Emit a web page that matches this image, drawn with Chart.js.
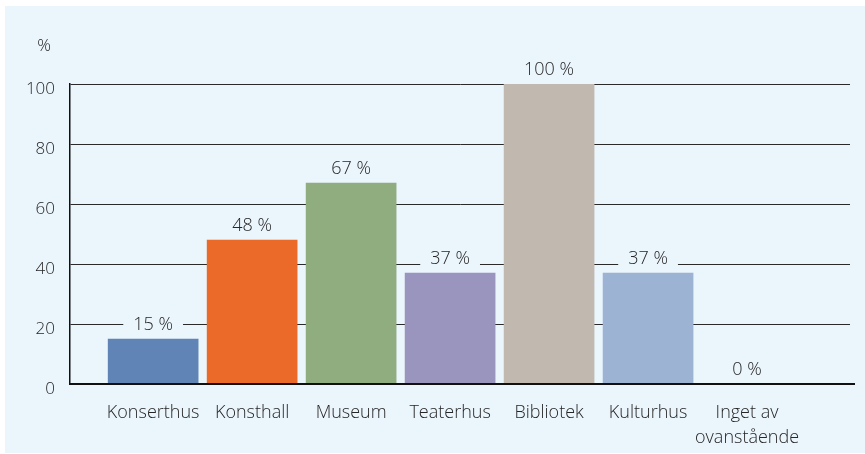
<!DOCTYPE html>
<html>
<head>
<meta charset="utf-8">
<script src="https://cdn.jsdelivr.net/npm/chart.js@4"></script>
<style>
  html, body { margin: 0; padding: 0; background: #ffffff; }
  #wrap { width: 865px; height: 454px; }
</style>
</head>
<body>
<div id="wrap"><canvas id="chart" width="865" height="454"></canvas></div>
<script>
// data
const categories = ['Konserthus', 'Konsthall', 'Museum', 'Teaterhus', 'Bibliotek', 'Kulturhus', ['Inget av', 'ovanstående']];
const values = [15, 48, 67, 37, 100, 37, 0];
const barColors = ['#6184b7', '#eb6a29', '#8fad7f', '#9a95be', '#c1b9b0', '#9db3d3', '#9db3d3'];
const yTicks = [0, 20, 40, 60, 80, 100];
const yUnit = '%';

const panelColor = '#eaf5fc';
const textColor = '#262626';
const fontFamily = '"Open Sans", sans-serif';

const ctx = document.getElementById('chart');

// panel background, axis line, unit label and value labels
const decor = {
  id: 'decor',
  beforeDraw(chart) {
    const c = chart.ctx;
    c.save();
    c.fillStyle = panelColor;
    c.fillRect(5, 6, chart.width - 5, 447);
    c.restore();
  },
  afterDatasetsDraw(chart) {
    const c = chart.ctx;
    const area = chart.chartArea;
    const y = chart.scales.y;
    c.save();
    // x axis line
    c.strokeStyle = '#111';
    c.lineWidth = 2;
    c.beginPath();
    c.moveTo(area.left, y.getPixelForValue(0));
    c.lineTo(area.right + 5, y.getPixelForValue(0));
    c.stroke();
    // unit
    c.font = '300 17px ' + fontFamily;
    c.fillStyle = textColor;
    c.textAlign = 'center';
    c.textBaseline = 'middle';
    c.fillText(yUnit, 44, 46);
    // value labels
    c.font = '300 18px ' + fontFamily;
    const meta = chart.getDatasetMeta(0);
    meta.data.forEach((bar, i) => {
      const txt = values[i] + ' %';
      const w = c.measureText(txt).width + 20;
      const cy = bar.y - 14;
      c.fillStyle = panelColor;
      c.fillRect(bar.x - w / 2, cy - 10, w, 20);
      c.fillStyle = textColor;
      c.fillText(txt, bar.x, cy);
    });
    c.restore();
  }
};

const chart = new Chart(ctx, {
  type: 'bar',
  data: {
    datasets: [{
      data: values.map((v, i) => ({ x: i, y: v })),
      backgroundColor: barColors,
      borderWidth: 0,
      barThickness: 90
    }]
  },
  options: {
    responsive: false,
    animation: false,
    layout: { padding: { top: 84, right: 15, left: 0, bottom: 0 } },
    plugins: {
      legend: { display: false },
      tooltip: { enabled: false }
    },
    scales: {
      x: {
        type: 'linear',
        offset: false,
        min: -0.84,
        max: 7.04,
        afterBuildTicks: (scale) => { scale.ticks = categories.map((c, i) => ({ value: i })); },
        afterFit: (scale) => { scale.height = 70; },
        grid: { display: false, offset: false },
        border: { display: false },
        ticks: {
          autoSkip: false,
          maxRotation: 0,
          padding: 9,
          color: textColor,
          font: { family: fontFamily, size: 18, weight: 300, lineHeight: 1.35 },
          callback: (v) => categories[v]
        }
      },
      y: {
        min: 0,
        max: 100,
        afterBuildTicks: (scale) => { scale.ticks = yTicks.map(v => ({ value: v })); },
        afterFit: (scale) => { scale.width = 70; },
        grid: { color: '#2a2a2a', lineWidth: 1, drawTicks: false },
        border: { color: '#111', width: 1.5 },
        ticks: {
          padding: 15,
          labelOffset: 5,
          color: textColor,
          font: { family: fontFamily, size: 17, weight: 300 }
        }
      }
    }
  },
  plugins: [decor]
});
</script>
</body>
</html>
